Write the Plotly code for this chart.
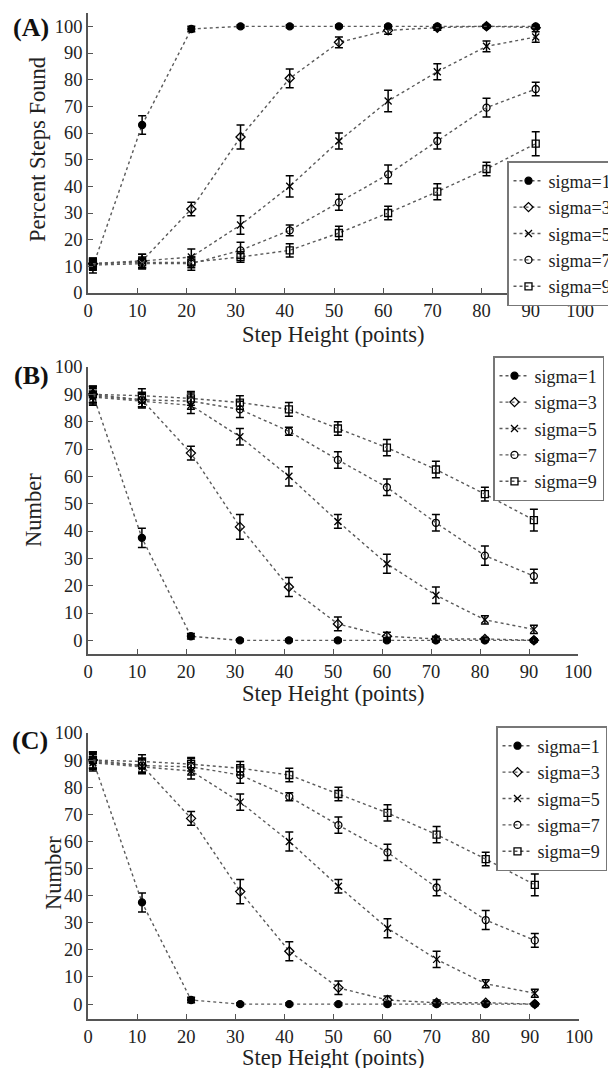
import plotly.graph_objects as go

# ---------------- data ----------------
step_height = [1, 11, 21, 31, 41, 51, 61, 71, 81, 91]
series_names = ["sigma=1", "sigma=3", "sigma=5", "sigma=7", "sigma=9"]
x_ticks = [0, 10, 20, 30, 40, 50, 60, 70, 80, 90, 100]
y_ticks = [0, 10, 20, 30, 40, 50, 60, 70, 80, 90, 100]

# Panel A: Percent Steps Found
a_s1 = [10, 63, 99, 100, 100, 100, 100, 100, 100, 100]
a_s3 = [11, 12, 31.5, 58.5, 80.5, 94, 98.5, 99.5, 100, 99.5]
a_s5 = [11, 12, 13.5, 25.5, 40, 57, 72, 83, 92.5, 96]
a_s7 = [10.5, 11, 11, 16, 23.5, 34, 44.5, 57, 69.5, 76.5]
a_s9 = [11, 11.5, 11.5, 13.5, 16, 22.5, 30, 38, 46.5, 56]
a_s1_err = [2.5, 3.5, 1, 0.5, 0.5, 0.5, 0.5, 0.5, 0.5, 0.5]
a_s3_err = [2, 2.5, 2.5, 4.5, 3.5, 2, 1.5, 1, 0.5, 0.5]
a_s5_err = [2, 2.5, 3, 3.5, 4, 3, 4, 3, 2, 2]
a_s7_err = [2, 2, 2.5, 3, 2, 3, 3.5, 3, 3.5, 2.5]
a_s9_err = [2, 2, 2, 2, 2.5, 2.5, 2.5, 3, 2.5, 4.5]

# Panel B: Number
b_s1 = [90, 37.5, 1.5, 0, 0, 0, 0, 0, 0, 0]
b_s3 = [90, 88, 68.5, 41.5, 19.5, 6, 1.5, 0.5, 0.5, 0]
b_s5 = [89, 87.5, 86, 74.5, 60, 43.5, 28, 16.5, 7.5, 4]
b_s7 = [89.5, 88, 87.5, 84.5, 76.5, 66, 56, 43, 31, 23.5]
b_s9 = [90, 89.5, 88.5, 87, 84.5, 77.5, 70.5, 62.5, 53.5, 44]
b_s1_err = [3, 3.5, 1, 0.5, 0.5, 0.5, 0.5, 0.5, 0.5, 0.5]
b_s3_err = [3, 2.5, 2.5, 4.5, 3.5, 2.5, 1.5, 1, 0.5, 0.5]
b_s5_err = [3, 2.5, 3, 3, 3.5, 2.5, 3.5, 3, 1.5, 1.5]
b_s7_err = [3, 2.5, 3, 3, 1.5, 3, 3, 3, 3.5, 2.5]
b_s9_err = [3, 2.5, 2.5, 2.5, 2.5, 2.5, 3, 3, 2.5, 4]

# Panel C: Number
c_s1 = [90, 37.5, 1.5, 0, 0, 0, 0, 0, 0, 0]
c_s3 = [90, 88, 68.5, 41.5, 19.5, 6, 1.5, 0.5, 0.5, 0]
c_s5 = [89, 87.5, 86, 74.5, 60, 43.5, 28, 16.5, 7.5, 4]
c_s7 = [89.5, 88, 87.5, 84.5, 76.5, 66, 56, 43, 31, 23.5]
c_s9 = [90, 89.5, 88.5, 87, 84.5, 77.5, 70.5, 62.5, 53.5, 44]
c_s1_err = [3, 3.5, 1, 0.5, 0.5, 0.5, 0.5, 0.5, 0.5, 0.5]
c_s3_err = [3, 2.5, 2.5, 4.5, 3.5, 2.5, 1.5, 1, 0.5, 0.5]
c_s5_err = [3, 2.5, 3, 3, 3.5, 2.5, 3.5, 3, 1.5, 1.5]
c_s7_err = [3, 2.5, 3, 3, 1.5, 3, 3, 3, 3.5, 2.5]
c_s9_err = [3, 2.5, 2.5, 2.5, 2.5, 2.5, 3, 3, 2.5, 4]

# ---------------- styling ----------------
W, H = 608, 1068
FONT = "Liberation Serif, serif"
symbols = ["circle", "diamond-open", "x-thin-open", "circle-open", "square-open"]


def px(x):
    return x / W


def py(y):
    return 1 - y / H


fig = go.Figure()

panels = [
    dict(ys=[a_s1, a_s3, a_s5, a_s7, a_s9], errs=[a_s1_err, a_s3_err, a_s5_err, a_s7_err, a_s9_err],
         xa="x", ya="y", legend="legend"),
    dict(ys=[b_s1, b_s3, b_s5, b_s7, b_s9], errs=[b_s1_err, b_s3_err, b_s5_err, b_s7_err, b_s9_err],
         xa="x2", ya="y2", legend="legend2"),
    dict(ys=[c_s1, c_s3, c_s5, c_s7, c_s9], errs=[c_s1_err, c_s3_err, c_s5_err, c_s7_err, c_s9_err],
         xa="x3", ya="y3", legend="legend3"),
]

for p in panels:
    for name, yv, ev, sym in zip(series_names, p["ys"], p["errs"], symbols):
        fig.add_trace(go.Scatter(
            x=step_height, y=yv, name=name, mode="lines+markers",
            xaxis=p["xa"], yaxis=p["ya"], legend=p["legend"],
            line=dict(color="#5a5a5a", width=1.4, dash="dot"),
            marker=dict(symbol=sym, size=7, color="black",
                        line=dict(color="black", width=1.3)),
            error_y=dict(type="data", array=ev, visible=True, color="black",
                         thickness=1.5, width=4),
        ))

# plot areas in pixels: (left, right, top, bottom)
areas = [(88, 580, 13, 293), (88, 578, 367, 654), (88, 579, 733, 1019)]
yranges = [[0, 105], [-5, 100], [-5.5, 100]]

axis_common = dict(
    showline=True, linecolor="#555", linewidth=1.5, mirror=False,
    ticks="inside", ticklen=5, tickcolor="#555", tickwidth=1.2,
    showgrid=False, zeroline=False, automargin=False,
    tickfont=dict(family=FONT, size=18.5, color="#222"),
)

layout_axes = {}
for i, ((l, r, t, b), yr) in enumerate(zip(areas, yranges)):
    sfx = "" if i == 0 else str(i + 1)
    layout_axes["xaxis" + sfx] = dict(
        axis_common, domain=[px(l), px(r)], range=[0, 100],
        tickvals=x_ticks, anchor="y" + sfx)
    layout_axes["yaxis" + sfx] = dict(
        axis_common, domain=[py(b), py(t)], range=yr,
        tickvals=y_ticks, anchor="x" + sfx)

legend_common = dict(
    bgcolor="white", bordercolor="#777", borderwidth=1.5,
    font=dict(family=FONT, size=18, color="#222"),
    xanchor="left", yanchor="top", itemwidth=30, tracegroupgap=0,
)

fig.update_layout(
    width=W, height=H, margin=dict(l=0, r=0, t=0, b=0, autoexpand=False),
    paper_bgcolor="white", plot_bgcolor="white",
    showlegend=True,
    legend=dict(legend_common, x=px(507), y=py(161)),
    legend2=dict(legend_common, x=px(493), y=py(356)),
    legend3=dict(legend_common, x=px(496), y=py(726)),
    **layout_axes,
)

annotations = []
title_font = dict(family=FONT, size=22.5, color="#222")
label_font = dict(family=FONT, size=26, color="#111")
# x-axis titles
for yc in [334, 693, 1057]:
    annotations.append(dict(text="Step Height (points)", x=px(333), y=py(yc), xref="paper", yref="paper",
                            showarrow=False, font=title_font, xanchor="center", yanchor="middle"))
# y-axis titles
for txt, xc, yc in [("Percent Steps Found", 37, 150), ("Number", 34, 510), ("Number", 53, 873)]:
    annotations.append(dict(text=txt, x=px(xc), y=py(yc), xref="paper", yref="paper", textangle=-90,
                            showarrow=False, font=title_font, xanchor="center", yanchor="middle"))
# panel labels
for txt, xc, yc in [("(A)", 31, 27), ("(B)", 31, 376), ("(C)", 30, 740)]:
    annotations.append(dict(text="<b>" + txt + "</b>", x=px(xc), y=py(yc), xref="paper", yref="paper",
                            showarrow=False, font=label_font, xanchor="center", yanchor="middle"))
fig.update_layout(annotations=annotations)

fig.write_html("out.html")
